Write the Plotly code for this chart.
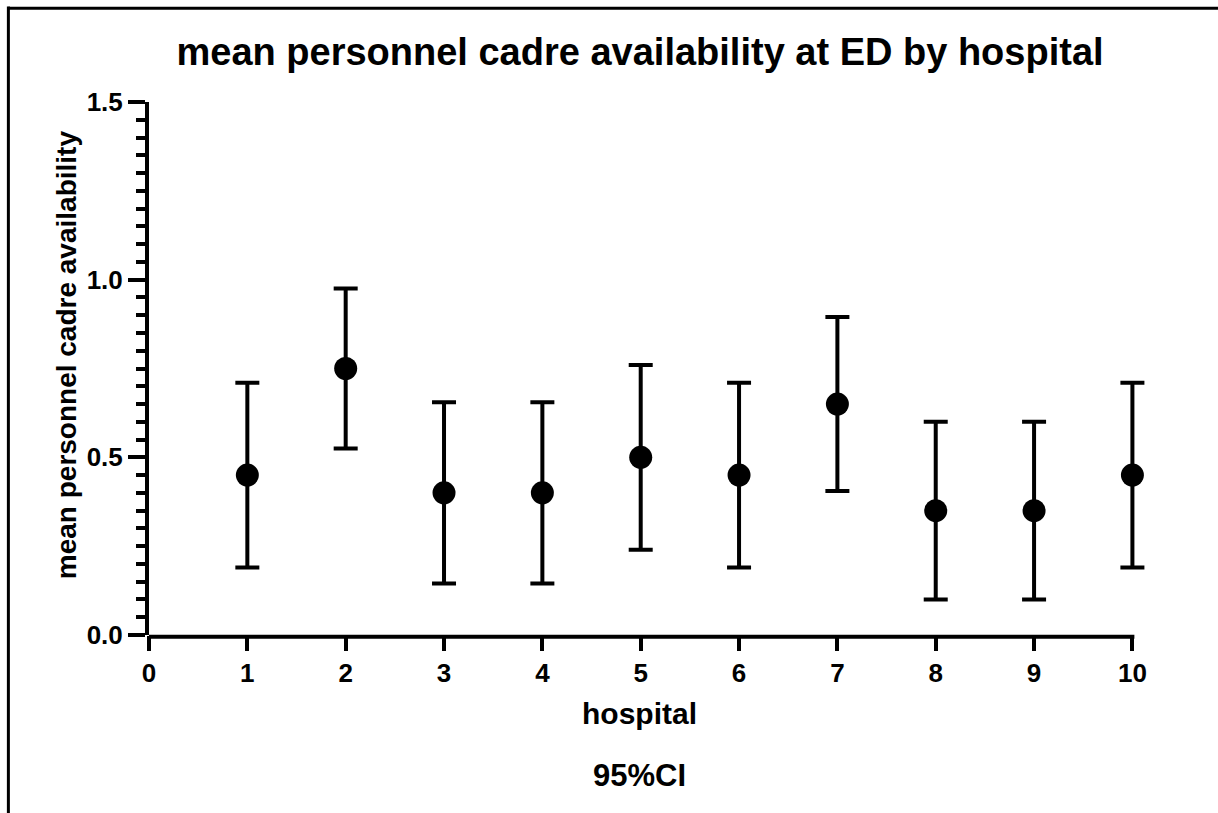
import plotly.graph_objects as go

# Mean personnel cadre availability per hospital with 95% CI
hospitals = [1, 2, 3, 4, 5, 6, 7, 8, 9, 10]
mean_avail = [0.45, 0.75, 0.40, 0.40, 0.50, 0.45, 0.65, 0.35, 0.35, 0.45]
ci_half = [0.26, 0.225, 0.255, 0.255, 0.26, 0.26, 0.245, 0.25, 0.25, 0.26]

x_ticks = list(range(0, 11))
y_ticks = [0.0, 0.5, 1.0, 1.5]
y_tick_text = ["0.0", "0.5", "1.0", "1.5"]

FONT = "Liberation Sans"
X_MAX = 10.25  # a little room past 10 so the last error-bar cap is not clipped

fig = go.Figure()
fig.add_trace(go.Scatter(
    x=hospitals,
    y=mean_avail,
    mode="markers",
    marker=dict(color="black", size=23, symbol="circle"),
    error_y=dict(type="data", array=ci_half, visible=True,
                 color="black", thickness=4, width=12),
    showlegend=False,
    cliponaxis=False,
))

fig.update_layout(
    width=1218, height=813,
    margin=dict(l=149, r=61, t=102, b=178),
    paper_bgcolor="white", plot_bgcolor="white",
    font=dict(family=FONT, color="black"),
    title=dict(text="<b>mean personnel cadre availability at ED by hospital</b>",
               x=0.5255, xanchor="center", y=0.936, yanchor="middle",
               font=dict(size=38, family=FONT, color="black")),
    xaxis=dict(
        range=[0, X_MAX], tickmode="array", tickvals=x_ticks,
        ticktext=[f"<b>{v}</b>" for v in x_ticks],
        showgrid=False, zeroline=False, showline=False,
        ticks="outside", ticklen=15, tickwidth=4, tickcolor="black",
        tickfont=dict(size=26, family=FONT),
    ),
    yaxis=dict(
        range=[0, 1.5], tickmode="array", tickvals=y_ticks,
        ticktext=[f"<b>{t}</b>" for t in y_tick_text],
        showgrid=False, zeroline=False,
        showline=True, linecolor="black", linewidth=4,
        ticks="outside", ticklen=17, tickwidth=4, tickcolor="black",
        tickfont=dict(size=26, family=FONT),
        minor=dict(dtick=0.05, ticks="outside", ticklen=9, tickwidth=4, tickcolor="black"),
    ),
    annotations=[
        dict(text="<b>hospital</b>", xref="paper", yref="paper",
             x=0.487, y=-0.148, xanchor="center", yanchor="middle",
             showarrow=False, font=dict(size=30, family=FONT, color="black")),
        dict(text="<b>mean personnel cadre availability</b>", xref="paper", yref="paper",
             x=-0.0823, y=0.525, xanchor="center", yanchor="middle", textangle=-90,
             showarrow=False, font=dict(size=28, family=FONT, color="black")),
        dict(text="<b>95%CI</b>", xref="paper", yref="paper",
             x=0.487, y=-0.263, xanchor="center", yanchor="middle",
             showarrow=False, font=dict(size=31, family=FONT, color="black")),
    ],
    shapes=[
        # x axis line, ending at hospital 10
        dict(type="line", xref="x", yref="paper", x0=-0.02, x1=10.02, y0=-0.0035, y1=-0.0035,
             line=dict(color="black", width=4)),
        # outer frame (top and left edges)
        dict(type="line", xref="paper", yref="paper", x0=-0.1395, x1=1.0605, y0=1.176, y1=1.176,
             line=dict(color="black", width=3)),
        dict(type="line", xref="paper", yref="paper", x0=-0.1395, x1=-0.1395, y0=1.179, y1=-0.4,
             line=dict(color="black", width=3)),
    ],
)

fig.write_html("out.html", config={"displayModeBar": False})
